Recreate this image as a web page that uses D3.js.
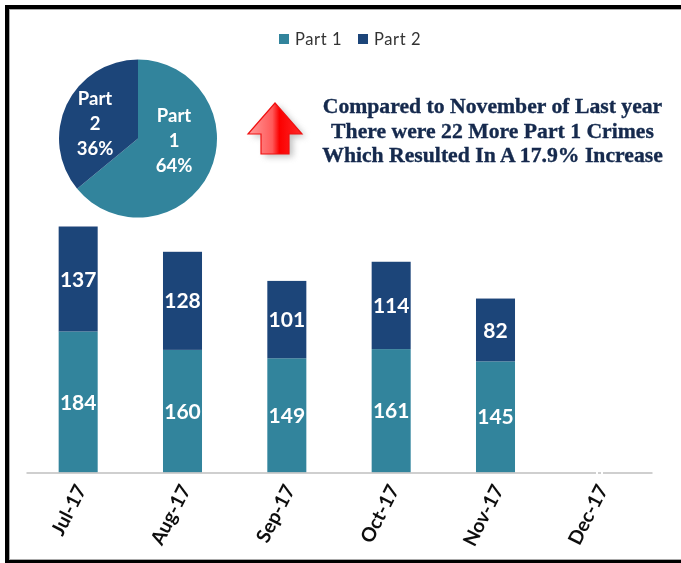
<!DOCTYPE html>
<html>
<head>
<meta charset="utf-8">
<script src="https://cdn.jsdelivr.net/npm/d3@7"></script>
<style>
    body { margin: 0; background: #fff; }
    svg { display: block; }
    text { font-family: Lato, "Open Sans", sans-serif; }
</style>
</head>
<body>
<div id="chart"></div>
<script>
const months = ['Jul-17', 'Aug-17', 'Sep-17', 'Oct-17', 'Nov-17', 'Dec-17'];
const part1 = [184, 160, 149, 161, 145, null];
const part2 = [137, 128, 101, 114, 82, null];
const pieNames = ['Part 1', 'Part 2'];
const pieValues = [64, 36];
const seriesNames = ['Part 1', 'Part 2'];
const seriesColors = ['#32849c', '#1f4579'];
const noteLines = [
    'Compared to November of Last year',
    'There were 22 More Part 1 Crimes',
    'Which Resulted In A 17.9% Increase'
];

const width = 681;
const height = 563;

const svg = d3.select('#chart').append('svg')
    .attr('width', width)
    .attr('height', height)
    .attr('viewBox', [0, 0, width, height]);

const defs = svg.append('defs');
const soft = defs.append('filter').attr('id', 'soft');
soft.append('feGaussianBlur').attr('stdDeviation', 0.45);
const shadow = defs.append('filter').attr('id', 'shadow')
    .attr('x', '-30%').attr('y', '-30%').attr('width', '170%').attr('height', '170%');
shadow.append('feGaussianBlur').attr('stdDeviation', 3);
const arrowFill = defs.append('linearGradient').attr('id', 'arrowFill')
    .attr('x1', 0).attr('x2', 1).attr('y1', 0).attr('y2', 0);
arrowFill.append('stop').attr('offset', '0%').attr('stop-color', '#ff9c9c');
arrowFill.append('stop').attr('offset', '45%').attr('stop-color', '#ff5a5a');
arrowFill.append('stop').attr('offset', '58%').attr('stop-color', '#fb0000');
arrowFill.append('stop').attr('offset', '100%').attr('stop-color', '#ff2a2a');

// outer frame, runs off the right edge
svg.append('rect').attr('x', 7).attr('y', 7).attr('width', 690).attr('height', 555)
    .attr('fill', 'none').attr('stroke', '#000').attr('stroke-width', 4);
svg.append('rect').attr('x', 9.5).attr('y', 9.5).attr('width', 690).attr('height', 550)
    .attr('fill', 'none').attr('stroke', '#aaa').attr('stroke-width', 1);

// stacked bars
const x = d3.scaleBand().domain(months).range([26, 652]).paddingInner(0.626).paddingOuter(0.313);
const y = d3.scaleLinear().domain([0, 321]).range([472.5, 226.5]);

const rows = months.map((m, i) => ({ month: m, p1: part1[i], p2: part2[i] })).filter(d => d.p1 !== null);
const stack = d3.stack().keys(['p1', 'p2'])(rows);

const plot = svg.append('g').attr('filter', 'url(#soft)');

const layers = plot.selectAll('g.layer').data(stack).join('g')
    .attr('class', 'layer')
    .attr('fill', (d, i) => seriesColors[i]);

layers.selectAll('rect').data(d => d).join('rect')
    .attr('x', d => x(d.data.month))
    .attr('y', d => y(d[1]))
    .attr('width', x.bandwidth())
    .attr('height', d => y(d[0]) - y(d[1]));

layers.selectAll('text').data(d => d).join('text')
    .attr('x', d => x(d.data.month) + x.bandwidth() / 2)
    .attr('y', d => (y(d[0]) + y(d[1])) / 2)
    .attr('dy', '0.36em')
    .attr('text-anchor', 'middle')
    .attr('fill', '#fff')
    .attr('font-size', 21)
    .attr('font-weight', 700)
    .text(d => d[1] - d[0]);

// x axis
const xAxis = d3.axisBottom(x).tickSize(0).tickPadding(12);
plot.append('g')
    .attr('transform', 'translate(0,472.5)')
    .call(xAxis)
    .call(g => g.select('.domain').attr('stroke', '#bfbfbf').attr('stroke-width', 1.5))
    .call(g => g.selectAll('.tick text')
        .attr('font-family', 'Lato, sans-serif')
        .attr('font-size', 19.5)
        .attr('font-weight', 700)
        .attr('fill', '#111')
        .attr('text-anchor', 'end')
        .attr('dy', '0.35em')
        .attr('transform', 'translate(-8,8) rotate(-63)'));

// small break in the axis line above Dec-17
plot.append('g').selectAll('rect').data([596, 601]).join('rect')
    .attr('x', d => d)
    .attr('y', 471)
    .attr('width', 2)
    .attr('height', 3)
    .attr('fill', '#fff');

// legend
const legend = plot.append('g');
const legendX = [279, 358];
seriesNames.forEach((name, i) => {
    legend.append('rect')
        .attr('x', legendX[i]).attr('y', 34).attr('width', 10).attr('height', 10)
        .attr('fill', seriesColors[i]);
    legend.append('text')
        .attr('x', legendX[i] + 16).attr('y', 45)
        .attr('font-size', 16.5)
        .attr('letter-spacing', 0.6)
        .attr('fill', '#333')
        .text(name);
});

// pie
const pie = d3.pie().sort(null)(pieValues);
const arc = d3.arc().innerRadius(0).outerRadius(79);
const pieG = plot.append('g').attr('transform', 'translate(138,138.5)');
pieG.selectAll('path').data(pie).join('path')
    .attr('d', arc)
    .attr('fill', (d, i) => seriesColors[i]);

const pieLabelPos = [[36, -16.5], [-43, -33.5]];
pie.forEach((d, i) => {
    const words = pieNames[i].split(' ').concat(pieValues[i] + '%');
    pieG.append('text')
        .attr('fill', '#fff')
        .attr('font-size', 18.5)
        .attr('font-weight', 700)
        .attr('text-anchor', 'middle')
        .selectAll('tspan').data(words).join('tspan')
        .attr('x', pieLabelPos[i][0])
        .attr('y', (w, j) => pieLabelPos[i][1] + j * 25)
        .text(w => w);
});

// arrow
const arrowPath = 'M275 103 L302 134 L289 134 L289 154 L261 154 L261 134 L248 134 Z';
svg.append('path').attr('d', arrowPath)
    .attr('transform', 'translate(4,3)')
    .attr('fill', '#999').attr('opacity', 0.6).attr('filter', 'url(#shadow)');
svg.append('path').attr('d', arrowPath)
    .attr('fill', 'url(#arrowFill)')
    .attr('stroke', '#f01010').attr('stroke-width', 1.2);

// note
plot.append('g').selectAll('text').data(noteLines).join('text')
    .attr('x', 492.5)
    .attr('y', (d, i) => 113 + i * 24.5)
    .attr('text-anchor', 'middle')
    .attr('font-size', 21.7)
    .attr('font-weight', 700)
    .attr('stroke', '#14294d')
    .attr('stroke-width', 0.35)
    .style('font-family', '"Liberation Serif", serif')
    .attr('fill', '#14294d')
    .text(d => d);
</script>
</body>
</html>
